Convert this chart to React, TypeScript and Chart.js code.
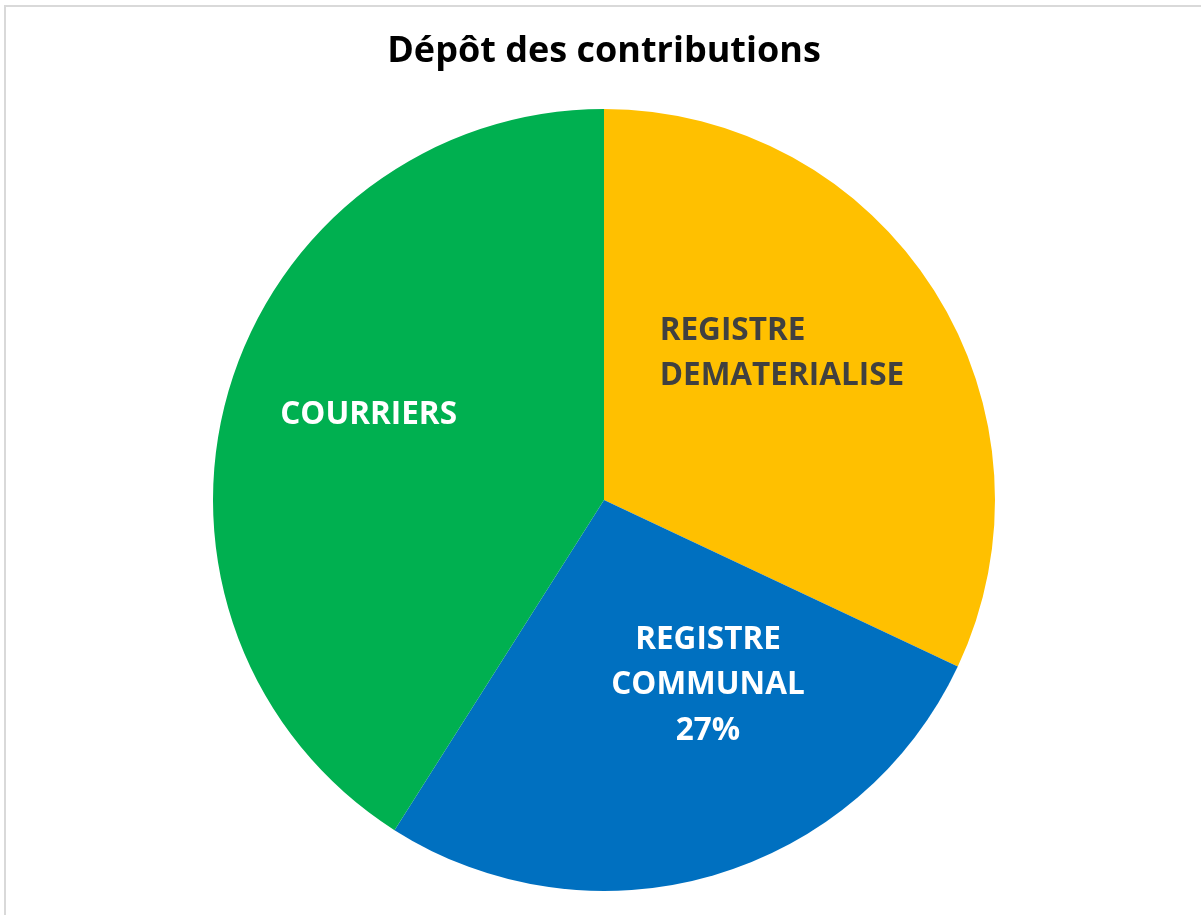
import React, { useEffect, useRef } from "react";
import { Chart, registerables } from "chart.js";

Chart.register(...registerables);

const TITLE = "Dépôt des contributions";
const categories = ["REGISTRE DEMATERIALISE", "REGISTRE COMMUNAL", "COURRIERS"];
const labelLines = [["REGISTRE", "DEMATERIALISE"], ["REGISTRE", "COMMUNAL"], ["COURRIERS"]];
const values = [32, 27, 41];
const showPercent = [false, true, false];
const sliceColors = ["#FFC000", "#0070C0", "#00B050"];
const labelColors = ["#404040", "#FFFFFF", "#FFFFFF"];

const FONT = "'Open Sans', 'DejaVu Sans', sans-serif";

const titlePlugin = {
  id: "customTitle",
  afterDraw(chart: any, _args: any, opts: any) {
    const ctx = chart.ctx;
    ctx.save();
    ctx.font = `bold ${opts.size}px ${FONT}`;
    ctx.fillStyle = "#000000";
    ctx.textAlign = "center";
    ctx.textBaseline = "alphabetic";
    const meta = chart.getDatasetMeta(0);
    const cx = meta.data.length ? (meta.data[0] as any).x : chart.width / 2;
    ctx.fillText(opts.text, cx, opts.baseline);
    ctx.restore();
  },
};

const sliceLabelPlugin = {
  id: "sliceLabels",
  afterDatasetsDraw(chart: any, _args: any, opts: any) {
    const ctx = chart.ctx;
    const meta = chart.getDatasetMeta(0);
    const data = chart.data.datasets[0].data as number[];
    const total = data.reduce((a, b) => a + b, 0);
    const size = opts.size;
    const capH = size * 0.714;
    ctx.save();
    ctx.font = `bold ${size}px ${FONT}`;
    meta.data.forEach((arc: any, i: number) => {
      const { x, y, outerRadius } = arc.getProps(["x", "y", "outerRadius"], true);
      const lines = [...labelLines[i]];
      if (showPercent[i]) lines.push(Math.round((data[i] / total) * 100) + "%");
      const a = opts.anchors[i];
      const cx = x + a[0] * outerRadius;
      const cy = y + a[1] * outerRadius;
      const lh = opts.lineHeight;
      const maxW = Math.max(...lines.map((l) => ctx.measureText(l).width));
      const align = opts.align[i];
      ctx.fillStyle = labelColors[i];
      ctx.textAlign = align;
      ctx.textBaseline = "alphabetic";
      const firstMid = cy - ((lines.length - 1) * lh) / 2;
      lines.forEach((l, k) => {
        const tx = align === "left" ? cx - maxW / 2 : cx;
        ctx.fillText(l, tx, firstMid + k * lh + capH / 2);
      });
    });
    ctx.restore();
  },
};

export default function App() {
  const ref = useRef<HTMLCanvasElement | null>(null);

  useEffect(() => {
    if (!ref.current) return;
    const chart = new Chart(ref.current, {
      type: "pie",
      data: {
        labels: categories,
        datasets: [
          {
            data: values,
            backgroundColor: sliceColors,
            borderWidth: 0,
            hoverOffset: 0,
          },
        ],
      },
      options: {
        responsive: false,
        animation: false,
        devicePixelRatio: 1,
        layout: { padding: { left: 213, right: 206, top: 109, bottom: 24 } },
        plugins: {
          legend: { display: false },
          tooltip: { enabled: false },
          title: { display: false },
          customTitle: { text: TITLE, size: 36, baseline: 62 },
          sliceLabels: {
            size: 31.5,
            lineHeight: 45.5,
            anchors: [
              [0.455, -0.38],
              [0.266, 0.468],
              [-0.602, -0.224],
            ],
            align: ["left", "center", "center"],
          },
        } as any,
      },
      plugins: [titlePlugin, sliceLabelPlugin],
    });
    return () => chart.destroy();
  }, []);

  return (
    <div style={{ position: "fixed", left: 0, top: 0, width: 1201, height: 915, background: "#ffffff", overflow: "hidden" }}>
      <div
        style={{
          position: "absolute",
          left: 4,
          top: 5,
          width: 1197,
          height: 910,
          borderLeft: "2px solid #d9d9d9",
          borderTop: "2px solid #d9d9d9",
          boxSizing: "border-box",
        }}
      />
      <canvas ref={ref} width={1201} height={915} style={{ position: "absolute", left: 0, top: 0, display: "block" }} />
    </div>
  );
}
